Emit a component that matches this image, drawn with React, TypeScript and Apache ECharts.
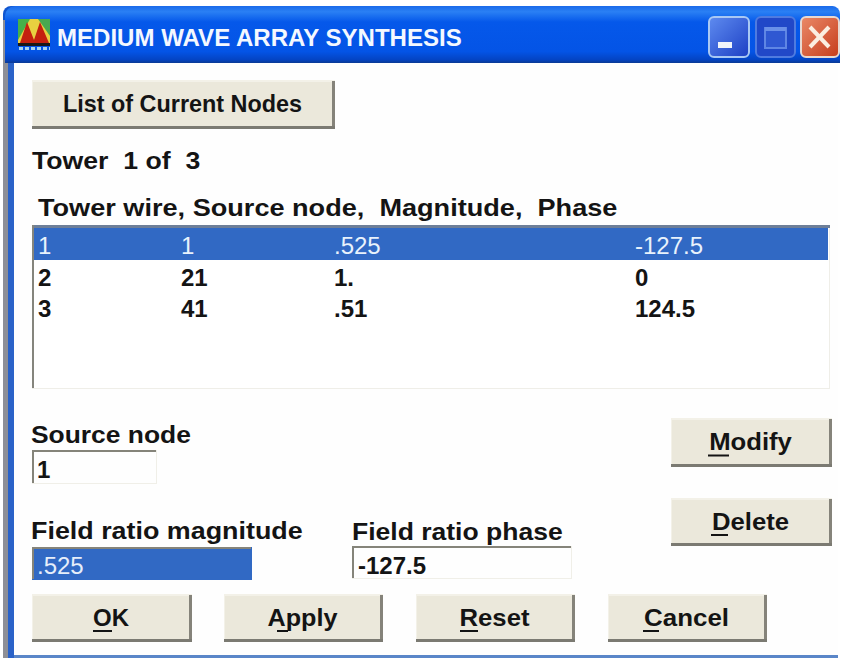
import React, { useEffect, useRef } from "react";
import * as echarts from "echarts";

const titleText = "MEDIUM WAVE ARRAY SYNTHESIS";
const headerText = "Tower wire, Source node,  Magnitude,  Phase";
const towerWires = ["1", "2", "3"];
const sourceNodes = ["1", "21", "41"];
const magnitudes = [".525", "1.", ".51"];
const phases = ["-127.5", "0", "124.5"];

const FONT = '"Liberation Sans", Arial, sans-serif';
const FACE = "#ebe8db";
const SEL = "#3169c4";
const INK = "#141414";

function label(text: string, x: number, y: number, sx = 1, fill = INK, weight: any = "bold", size = 24) {
  return {
    type: "text", x, y, scaleX: sx, silent: true,
    style: { text, fill, font: `${weight} ${size}px ${FONT}`, textVerticalAlign: "middle", textBaseline: "middle" },
  };
}

function button(text: string, x: number, y: number, w: number, h: number, sx: number, ul?: [number, number]) {
  const els: any[] = [
    { type: "rect", shape: { x, y, width: w, height: h }, style: { fill: "#f3f1e8" } },
    { type: "rect", shape: { x: x + 1, y: y + 2, width: w - 3, height: h - 4 }, style: { fill: FACE } },
    { type: "rect", shape: { x: x + w - 3, y: y + 1, width: 3, height: h - 1 }, style: { fill: "#85837a" } },
    { type: "rect", shape: { x, y: y + h - 3, width: w, height: 3 }, style: { fill: "#7b7a72" } },
    {
      type: "text", x: x + w / 2 - 1, y: y + h / 2 - 0.5, scaleX: sx, silent: true,
      style: { text, fill: INK, font: `bold 24px ${FONT}`, textAlign: "center", textVerticalAlign: "middle", textBaseline: "middle" },
    },
  ];
  if (ul) els.push({ type: "rect", shape: { x: ul[0], y: y + h / 2 + 12, width: ul[1], height: 2 }, style: { fill: INK } });
  return els;
}

function input(x: number, y: number, w: number, h: number, fill: string) {
  const edge = fill === SEL ? SEL : "#f0efe8";
  return [
    { type: "rect", shape: { x, y, width: w, height: h }, style: { fill } },
    { type: "rect", shape: { x, y, width: w, height: 2 }, style: { fill: "#85847a" } },
    { type: "rect", shape: { x, y, width: 2, height: h }, style: { fill: "#85847a" } },
    { type: "rect", shape: { x: x + w - 1, y, width: 1, height: h }, style: { fill: edge } },
    { type: "rect", shape: { x, y: y + h - 1, width: w, height: 1 }, style: { fill: edge } },
  ];
}

export default function App() {
  const ref = useRef<HTMLDivElement>(null);
  useEffect(() => {
    const chart = echarts.init(ref.current!, undefined, { renderer: "svg" });
    const rowY = [245, 277, 308];
    const colX = [38, 181, 334, 635];
    const rows: any[] = [];
    towerWires.forEach((_, i) => {
      const fill = i === 0 ? "#e8f2fc" : INK;
      const w = i === 0 ? "normal" : "bold";
      rows.push(label(towerWires[i], colX[0], rowY[i], 1, fill, w));
      rows.push(label(sourceNodes[i], colX[1], rowY[i], 1, fill, w));
      rows.push(label(magnitudes[i], colX[2], rowY[i], 1, fill, w));
      rows.push(label(phases[i], colX[3], rowY[i], 1, fill, w));
    });
    const titleGrad = new echarts.graphic.LinearGradient(0, 0, 0, 1, [
      { offset: 0, color: "#1a6aea" },
      { offset: 0.1, color: "#2a80f4" },
      { offset: 0.28, color: "#0558ea" },
      { offset: 0.8, color: "#0454e6" },
      { offset: 0.94, color: "#0444c4" },
      { offset: 1, color: "#0a3a94" },
    ]);
    const minGrad = new echarts.graphic.LinearGradient(0, 0, 1, 1, [
      { offset: 0, color: "#5f8cf0" },
      { offset: 1, color: "#1c3fc4" },
    ]);
    const closeGrad = new echarts.graphic.LinearGradient(0, 0, 1, 1, [
      { offset: 0, color: "#ea8a68" },
      { offset: 1, color: "#c63c1c" },
    ]);
    const graphic: any[] = [
      { type: "rect", shape: { x: 0, y: 0, width: 841, height: 658 }, style: { fill: "#ffffff" } },
      // window frame
      { type: "rect", shape: { x: 3, y: 6, width: 835, height: 652, r: [8, 8, 0, 0] }, style: { fill: "#0f55d0" } },
      { type: "rect", shape: { x: 3, y: 20, width: 5, height: 638 }, style: { fill: "#8e8f96" } },
      { type: "rect", shape: { x: 8, y: 60, width: 6, height: 598 }, style: { fill: "#2a62c8" } },
      { type: "rect", shape: { x: 5, y: 6, width: 835, height: 57, r: [10, 8, 0, 0] }, style: { fill: titleGrad } },
      { type: "rect", shape: { x: 14, y: 63, width: 824, height: 592 }, style: { fill: "#fefefe" } },
      { type: "rect", shape: { x: 14, y: 655, width: 824, height: 3 }, style: { fill: "#5a86c8" } },
      { type: "rect", shape: { x: 838, y: 63, width: 3, height: 595 }, style: { fill: "#ffffff" } },
      // app icon
      { type: "rect", shape: { x: 18, y: 19, width: 32, height: 25 }, style: { fill: "#e8d040" } },
      { type: "polygon", shape: { points: [[18, 19], [30, 19], [18, 40]] }, style: { fill: "#45b04a" } },
      { type: "polygon", shape: { points: [[38, 19], [50, 19], [50, 36]] }, style: { fill: "#48a850" } },
      { type: "polygon", shape: { points: [[20, 43], [27, 22], [34, 40], [40, 22], [49, 43]] }, style: { fill: "#c4200f" } },
      { type: "rect", shape: { x: 18, y: 43, width: 32, height: 3 }, style: { fill: "#181818" } },
      { type: "line", shape: { x1: 19, y1: 48.5, x2: 50, y2: 48.5 }, style: { stroke: "#a8d4f0", lineWidth: 3, lineDash: [4, 2] } },
      label(titleText, 57, 38, 1.002, "#f4f8ff"),
      // title buttons
      { type: "rect", shape: { x: 709, y: 17, width: 40, height: 40, r: 5 }, style: { fill: minGrad, stroke: "#a8c8f4", lineWidth: 2 } },
      { type: "rect", shape: { x: 718, y: 42, width: 14, height: 6 }, style: { fill: "#f0f4fa" } },
      { type: "rect", shape: { x: 756, y: 17, width: 39, height: 40, r: 5 }, style: { fill: "#2148c8", stroke: "#4f7be0", lineWidth: 2 } },
      { type: "rect", shape: { x: 765, y: 28, width: 21, height: 20 }, style: { fill: "#2f58d2", stroke: "#5f86e4", lineWidth: 2 } },
      { type: "rect", shape: { x: 765, y: 27, width: 21, height: 4 }, style: { fill: "#6a90e8" } },
      { type: "rect", shape: { x: 801, y: 17, width: 38, height: 40, r: 5 }, style: { fill: closeGrad, stroke: "#e8d8d0", lineWidth: 2 } },
      { type: "line", shape: { x1: 810, y1: 27, x2: 829, y2: 47 }, style: { stroke: "#fbeee0", lineWidth: 4 } },
      { type: "line", shape: { x1: 829, y1: 27, x2: 810, y2: 47 }, style: { stroke: "#fbeee0", lineWidth: 4 } },
      ...button("List of Current Nodes", 32, 80, 303, 49, 0.975),
      label("Tower  1 of  3", 32, 160, 1.11),
      label(headerText, 38, 208, 1.13),
      // list box
      { type: "rect", shape: { x: 32, y: 225, width: 798, height: 164 }, style: { fill: "#ffffff" } },
      { type: "rect", shape: { x: 32, y: 225, width: 798, height: 3 }, style: { fill: "#6e7f98" } },
      { type: "rect", shape: { x: 32, y: 225, width: 2, height: 164 }, style: { fill: "#85857d" } },
      { type: "rect", shape: { x: 32, y: 388, width: 798, height: 1 }, style: { fill: "#efeee8" } },
      { type: "rect", shape: { x: 829, y: 228, width: 1, height: 161 }, style: { fill: "#efeee8" } },
      { type: "rect", shape: { x: 34, y: 228, width: 794, height: 32 }, style: { fill: SEL } },
      ...rows,
      label("Source node", 31, 434, 1.1),
      ...input(32, 450, 125, 34, "#fefefe"),
      label("1", 37, 469),
      label("Field ratio magnitude", 31, 531, 1.12),
      ...input(32, 547, 220, 33, SEL),
      label(magnitudes[0], 37, 565, 1, "#e6eefa", "normal"),
      label("Field ratio phase", 352, 531, 1.105),
      ...input(352, 546, 220, 33, "#fefefe"),
      label(phases[0], 358, 565),
      ...button("Modify", 671, 418, 161, 49, 1.07, [708, 21]),
      ...button("Delete", 671, 498, 161, 48, 1.07, [711, 17]),
      ...button("OK", 32, 594, 160, 48, 1.0, [93, 19]),
      ...button("Apply", 224, 594, 159, 48, 1.05, [277, 11]),
      ...button("Reset", 416, 594, 159, 48, 1.07, [460, 18]),
      ...button("Cancel", 608, 594, 159, 48, 1.08, [643, 16]),
    ];
    chart.setOption({ animation: false, graphic: { elements: graphic } });
    return () => chart.dispose();
  }, []);
  return <div ref={ref} style={{ position: "absolute", left: 0, top: 0, width: 841, height: 658 }} />;
}
